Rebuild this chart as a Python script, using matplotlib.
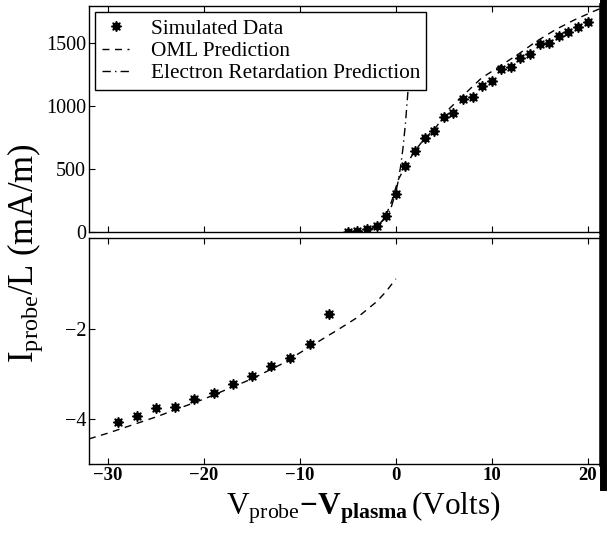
import matplotlib
matplotlib.use("Agg")
import matplotlib.pyplot as plt
from matplotlib.lines import Line2D

plt.rcParams['font.family'] = ['Liberation Serif', 'DejaVu Serif']
plt.rcParams['mathtext.fontset'] = 'custom'
plt.rcParams['mathtext.rm'] = 'Liberation Serif'
plt.rcParams['mathtext.it'] = 'Liberation Serif:italic'
plt.rcParams['mathtext.bf'] = 'Liberation Serif:bold'

# electron collection side (upper panel)
v_elec = [-5, -4, -3, -2, -1, 0, 1, 2, 3, 4, 5, 6, 7, 8, 9, 10,
          11, 12, 13, 14, 15, 16, 17, 18, 19, 20]
i_elec = [2, 10, 21, 49, 128, 298, 523, 643, 742, 802, 908, 945, 1051, 1071,
          1159, 1193, 1291, 1309, 1375, 1409, 1486, 1494, 1552, 1581, 1625, 1665]

v_oml_top = [-3, -2, -1.15, -0.45, 0.24, 1, 2, 3, 4, 5.6, 8.9, 12.9, 14.6,
             16.7, 18.6, 20.5, 21.5]
i_oml_top = [15, 42, 111, 240, 412, 523, 643, 742, 810, 979, 1217, 1415, 1507,
             1605, 1679, 1744, 1775]

v_retard = [-5, -4, -3, -2, -1, -0.5, 0, 0.25, 0.5, 0.75, 1.0, 1.25, 1.5]
i_retard = [2, 6, 16, 43, 116, 192, 316, 405, 520, 668, 858, 1101, 1414]

# ion collection side (lower panel)
v_ion = [-29, -27, -25, -23, -21, -19, -17, -15, -13, -11, -9, -7]
i_ion = [-4.06, -3.92, -3.76, -3.73, -3.56, -3.42, -3.21, -3.04, -2.82,
         -2.63, -2.32, -1.65]

v_oml_bot = [-32, -30, -25, -20, -15, -12, -10, -8, -6, -4, -2, -1, 0]
i_oml_bot = [-4.44, -4.31, -3.95, -3.55, -3.1, -2.78, -2.52, -2.26, -2.0,
             -1.73, -1.38, -1.15, -0.87]

xticks = [-30, -20, -10, 0, 10, 20]

W, H = 607, 535
fig = plt.figure(figsize=(W / 100, H / 100), dpi=100)
ax1 = fig.add_axes([89 / W, 1 - 232 / H, 513 / W, 226 / H])
ax2 = fig.add_axes([89 / W, 1 - 464 / H, 513 / W, 226 / H])

star = (8, 1, 0)

ax1.plot(v_elec, i_elec, linestyle='none', marker=star, ms=7.5, color='black',
         label='Simulated Data', zorder=3)
ax1.plot(v_oml_top, i_oml_top, color='black', lw=1, dashes=(5, 4),
         label='OML Prediction')
ax1.plot(v_retard, i_retard, color='black', lw=1, dashes=(6, 3, 1, 3),
         label='Electron Retardation Prediction')

ax2.plot(v_ion, i_ion, linestyle='none', marker=star, ms=7.5, color='black', zorder=3)
ax2.plot(v_oml_bot, i_oml_bot, color='black', lw=1, dashes=(5, 4))

ax1.set_ylim(0, 1790)
ax1.set_yticks([0, 500, 1000, 1500])
ax2.set_ylim(-5, 0.04)
ax2.set_yticks([-4, -2])

for ax in (ax1, ax2):
    ax.set_xlim(-32, 21.5)
    ax.set_xticks(xticks)
    ax.tick_params(direction='in', top=True, right=False, length=4,
                   width=0.8, labelsize=14.5, pad=2)
    for s in ('left', 'top', 'bottom'):
        ax.spines[s].set_linewidth(1.0)
    ax.spines['right'].set_linewidth(4)

ax1.tick_params(labelbottom=False)
ax2.tick_params(axis='x', labelsize=13.5, pad=2)
for lbl in ax2.get_xticklabels():
    lbl.set_fontweight('bold')

leg = ax1.legend(loc='upper left', bbox_to_anchor=(0.0, 1.0), fontsize=15.3,
                 frameon=True, fancybox=False, framealpha=1, edgecolor='black',
                 handlelength=1.3, handletextpad=1.0, borderpad=0.3,
                 labelspacing=0.12, borderaxespad=0.3)
leg.get_frame().set_linewidth(1.0)

fig.text(25 / W, 1 - 253 / H, r'$\mathrm{I}_{\mathrm{probe}}\mathrm{/L\ (mA/m)}$',
         rotation=90, ha='center', va='center', fontsize=25)
fig.text(363 / W, 1 - 514 / H,
         r'$\mathrm{V}_{\mathrm{probe}}\mathbf{-V}_{\mathbf{plasma}}\mathrm{\,(Volts)}$',
         ha='center', va='baseline', fontsize=22.5)

# dark edge along the right side of the page
fig.add_artist(Line2D([603 / W, 603 / W], [1 - 487 / H, 1.0],
                      transform=fig.transFigure, color='black', lw=5))

fig.savefig('out.png', dpi=100)
